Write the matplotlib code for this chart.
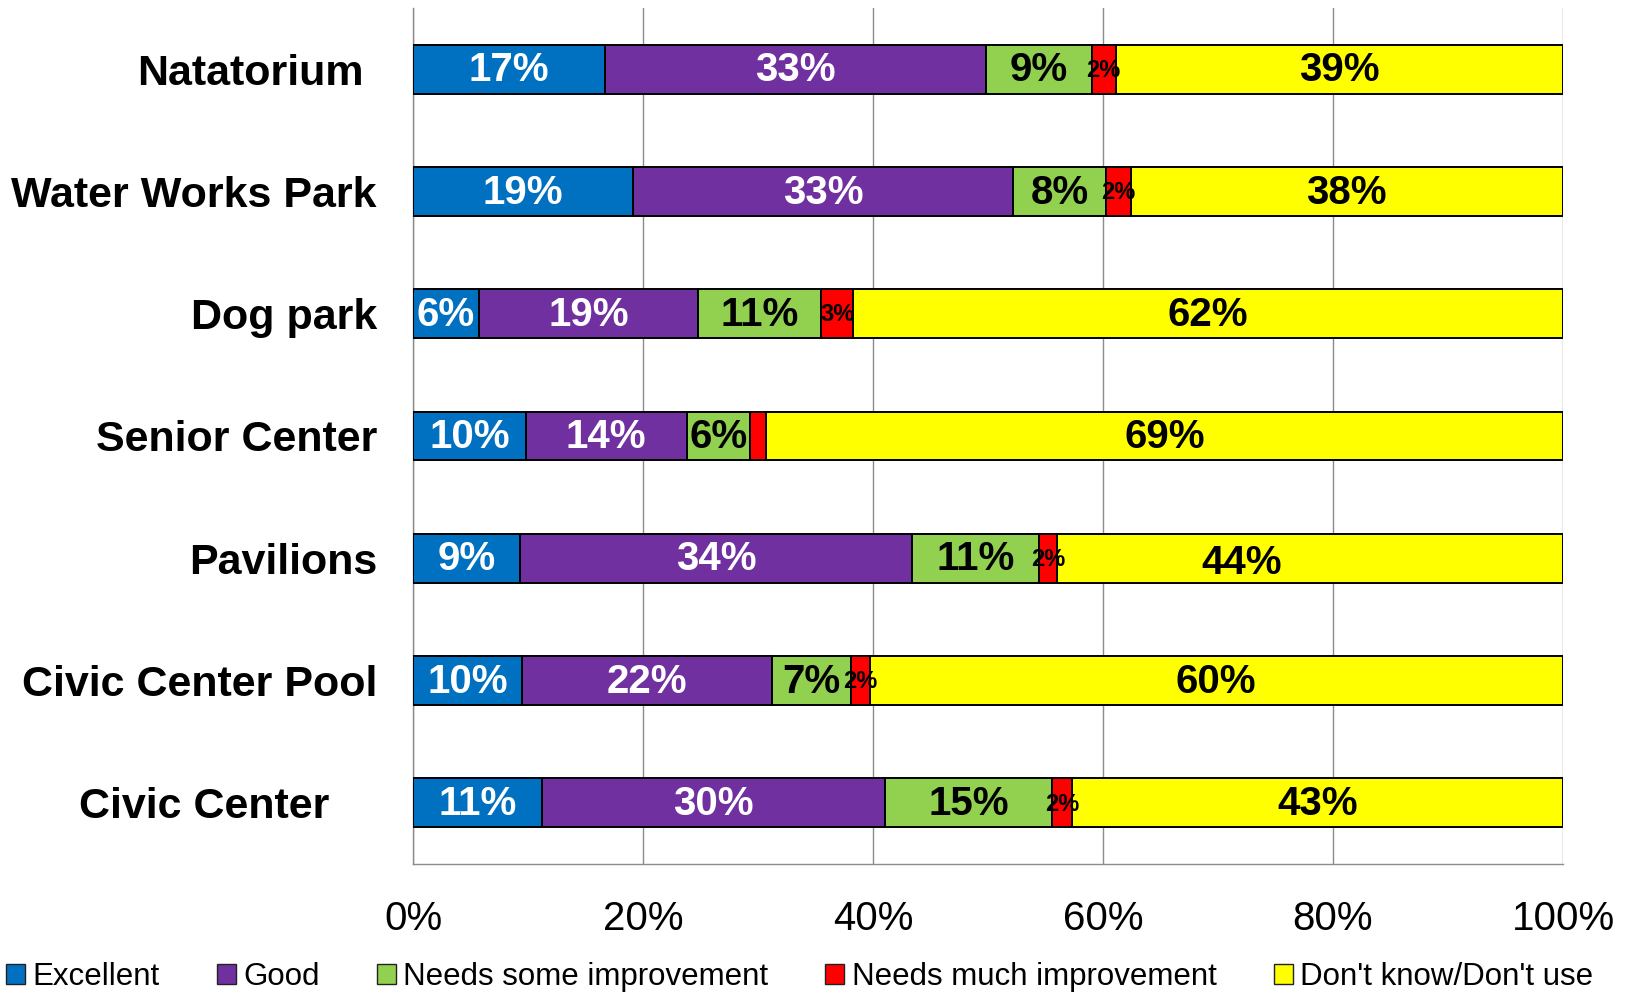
import numpy as np
import matplotlib
matplotlib.use("Agg")
import matplotlib.pyplot as plt
from matplotlib.patches import Patch

# survey data (percent of respondents)
facilities = ["Natatorium", "Water Works Park", "Dog park", "Senior Center",
              "Pavilions", "Civic Center Pool", "Civic Center"]
excellent = [16.7, 19.1, 5.7, 9.8, 9.3, 9.5, 11.2]
good = [33.1, 33.1, 19.1, 14.0, 34.1, 21.7, 29.8]
some_impr = [9.2, 8.1, 10.7, 5.5, 11.0, 6.9, 14.6]
much_impr = [2.1, 2.1, 2.8, 1.4, 1.6, 1.6, 1.7]
dont_use = [38.9, 37.6, 61.7, 69.3, 44.0, 60.3, 42.7]

series_names = ["Excellent", "Good", "Needs some improvement",
                "Needs much improvement", "Don't know/Don't use"]
series_colors = ["#0070C0", "#7030A0", "#92D050", "#FF0000", "#FFFF00"]
label_colors = ["white", "white", "black", "black", "black"]

font = "Liberation Sans"

fig = plt.figure(figsize=(16.32, 9.94), dpi=100)
ax = fig.add_axes([0.2531, 0.1308, 0.7046, 0.8612])

# the Pavilions "44%" label was dragged off-centre in the original
nudge = {(4, 4): (-5.9, 0.03)}

y = np.arange(len(facilities))
left = np.zeros(len(facilities))
all_series = [excellent, good, some_impr, much_impr, dont_use]
for si, (vals, col, tcol) in enumerate(zip(all_series, series_colors, label_colors)):
    vals = np.array(vals)
    ax.barh(y, vals, left=left, height=0.4, color=col, edgecolor="black",
            linewidth=1.4, zorder=3)
    for yi, l, v in zip(y, left, vals):
        if v < 1.5:
            continue
        dx, dy = nudge.get((yi, si), (0, 0))
        small = v < 4
        ax.text(l + v / 2 + dx, yi + 0.01 + dy, f"{v:.0f}%", ha="center", va="center",
                color=tcol, fontsize=17 if small else 29, fontweight="bold",
                family=font, zorder=4)
    left += vals

ax.set_xlim(0, 100)
ax.set_ylim(len(facilities) - 0.5, -0.5)
ax.set_xticks(np.arange(0, 101, 20))
ax.set_xticklabels([f"{t}%" for t in range(0, 101, 20)], family=font, fontsize=29)
ax.tick_params(axis="x", length=0, pad=26)
ax.tick_params(axis="y", length=0, pad=26)
ax.set_yticks(y)
ax.set_yticklabels(facilities, family=font, fontsize=31, fontweight="bold")

# a couple of the category labels sit further left in the original
for lab, extra in zip(ax.get_yticklabels(), [13, 0, 0, 0, 0, 0, 48]):
    lab.set_x(-extra / 1150)

ax.grid(axis="x", color="#8c8c8c", linewidth=1.0, zorder=0)
for s in ["top", "right"]:
    ax.spines[s].set_visible(False)
for s in ["left", "bottom"]:
    ax.spines[s].set_color("#8c8c8c")
    ax.spines[s].set_linewidth(1.0)

handles = [Patch(facecolor=c, edgecolor="#222222", linewidth=1.0) for c in series_colors]
fig.legend(handles, series_names, loc="center left", bbox_to_anchor=(0.0, 0.017),
           ncol=5, frameon=False, prop={"family": font, "size": 22.5},
           handlelength=0.6, handleheight=0.6, handletextpad=0.25,
           columnspacing=1.82, borderpad=0.2, borderaxespad=0)

fig.savefig("out.png", dpi=100)
